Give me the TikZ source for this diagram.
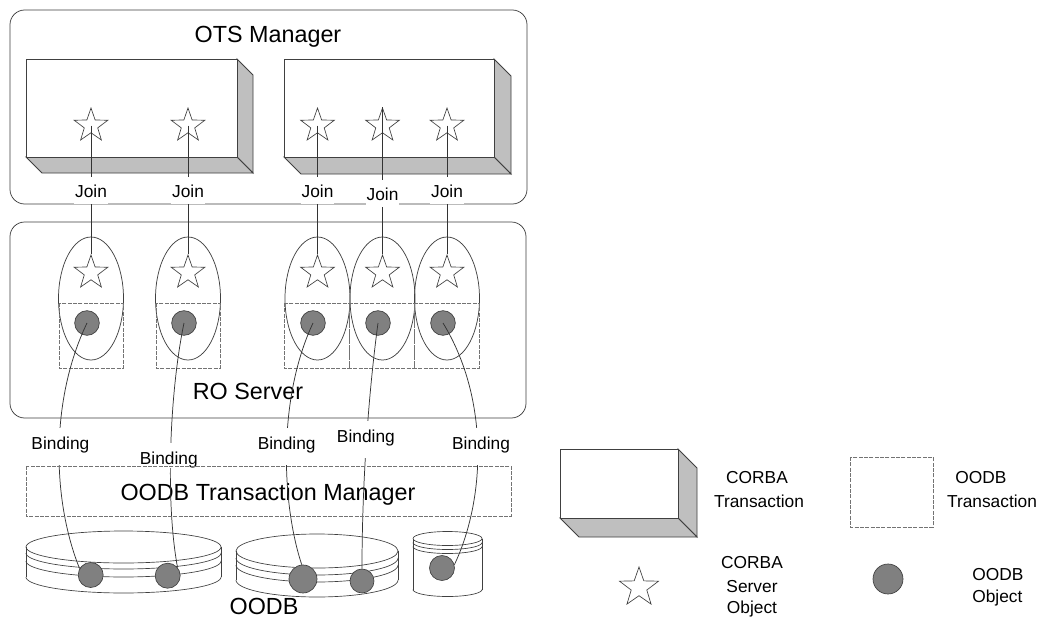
\documentclass[tikz,border=0pt]{standalone}
\usepackage{fontspec}
\setmainfont{Liberation Sans}
\usetikzlibrary{shapes.geometric}

\tikzset{
  outline/.style={draw=black!75, line width=0.55pt},
  wire/.style={draw=black!80, line width=0.55pt},
  mgrbox/.style={outline, rounded corners=11pt},
  facebox/.style={draw=black!75, line width=0.7pt, fill=white},
  sidebox/.style={draw=black!75, line width=0.7pt, fill=black!25},
  odbframe/.style={draw=black!55, line width=0.5pt, dash pattern=on 3pt off 1pt},
  srvobj/.style={star, star points=5, star point ratio=2.5, draw=black!75,
    line width=0.5pt, fill=white, inner sep=0pt, minimum size=#1},
  srvobj/.default=26.5pt,
  dbobj/.style={circle, draw=black!75, line width=0.5pt, fill=gray,
    inner sep=0pt, minimum size=#1},
  dbobj/.default=18.5pt,
  oval/.style={ellipse, outline, inner sep=0pt, minimum width=48.75pt, minimum height=92.25pt},
  bigtext/.style={font=\fontsize{17.5pt}{20pt}\selectfont, anchor=base, inner sep=0pt},
  smalltext/.style={font=\fontsize{13pt}{15pt}\selectfont, anchor=base, inner sep=0pt},
  joinlbl/.style={smalltext, fill=white, inner xsep=0.5pt, inner ysep=0pt,
    text height=15pt, text depth=4.9pt},
  bindlbl/.style={smalltext, fill=white, inner xsep=0.5pt, inner ysep=0pt,
    text height=16pt, text depth=12pt},
  dbline/.style={draw=black!75, line width=0.5pt},
}

% database drum: centre x, top-ellipse centre y, x radius, y radius, height, two ring offsets
\newcommand\dbdisk[7]{%
  \draw[dbline] (#1,#2) ellipse [x radius=#3, y radius=#4];
  \draw[dbline] ({#1-#3},#2) -- ({#1-#3},{#2+#5});
  \draw[dbline] ({#1+#3},#2) -- ({#1+#3},{#2+#5});
  \foreach \ringoff in {#6,#7,#5}{%
    \draw[dbline] plot[domain=0:180, samples=60] ({#1+#3*cos(\x)},{#2+\ringoff+#4*sin(\x)});
  }%
}

% raised CORBA transaction slab: left, top, right, bottom, depth
\newcommand\corbabox[5]{%
  \filldraw[sidebox] (#3,#2) -- ({#3+#5},{#2+#5}) -- ({#3+#5},{#4+#5}) -- (#3,#4) -- cycle;
  \filldraw[sidebox] (#1,#4) -- (#3,#4) -- ({#3+#5},{#4+#5}) -- ({#1+#5},{#4+#5}) -- cycle;
  \filldraw[facebox] (#1,#2) rectangle (#3,#4);
}

\begin{document}
\begin{tikzpicture}[x=0.75pt, y=-0.75pt]
\fill[white] (0,0) rectangle (1038,621);
\useasboundingbox (0,0) rectangle (1038,621);

% ---------------- OTS manager ----------------
\draw[mgrbox] (10,10) rectangle (527,204);
\node[bigtext] (otsname) at (268,42.4) {OTS Manager};
\corbabox{26}{59}{237}{157}{16}
\corbabox{284}{59}{494}{157}{17}
\foreach \i/\xx in {1/91,2/188,3/317.5,4/382.5,5/447}{
  \node[srvobj] (ts\i) at (\xx,125.7) {};
}

% ---------------- RO server ----------------
\draw[mgrbox] (10,222) rectangle (526,418);
\foreach \i/\xx in {1/91,2/188,3/317.5,4/382.5,5/447}{
  \node[oval] (ov\i) at (\xx,298.5) {};
}
\draw[odbframe] (59,303) rectangle (123,368);
\draw[odbframe] (156,303) rectangle (220,368);
\draw[odbframe] (284,303) rectangle (349,368);
\draw[odbframe] (349,303) rectangle (414,368);
\draw[odbframe] (414,303) rectangle (479,368);
\foreach \i/\xx in {1/91,2/188,3/317.5,4/382.5,5/447}{
  \node[srvobj] (rs\i) at (\xx,272.7) {};
}
\foreach \i/\xx in {1/87,2/184,3/313,4/378,5/443}{
  \node[dbobj] (rc\i) at (\xx,323) {};
}
\node[bigtext] (roname) at (248,399.4) {RO Server};

% ---------------- OODB side ----------------
\node[bigtext] (tmname) at (268,500.4) {OODB Transaction Manager};
\dbdisk{123.5}{547}{97.5}{16}{30}{6}{14}
\dbdisk{317}{551}{81}{17}{29}{7}{14}
\dbdisk{447.5}{538.5}{34.5}{7}{51}{4}{8}
\node[dbobj=18.75pt] (dc1a) at (90.7,575) {};
\node[dbobj=18.75pt] (dc1b) at (167.7,575.7) {};
\node[dbobj=21pt] (dc2a) at (303,579) {};
\node[dbobj=18pt] (dc2b) at (362,581) {};
\node[dbobj=18.75pt] (dc3a) at (442,568) {};
\node[bigtext] (dbname) at (264,614) {OODB};

% ---------------- join connectors ----------------
\draw[wire] (ts1.center) -- (rs1.north);
\draw[wire] (ts2.center) -- (rs2.north);
\draw[wire] (ts3.center) -- (rs3.north);
\draw[wire] (ts4.north) -- (rs4.north);
\draw[wire] (ts5.center) -- (rs5.north);

% ---------------- binding connectors ----------------
\draw[wire] (rc1.center) .. controls (50,400) and (52,500) .. (dc1a.150);
\draw[wire] (rc2.center) .. controls (170,390) and (165,500) .. (dc1b.40);
\draw[wire] (rc3.center) .. controls (277,400) and (282,505) .. (dc2a.95);
\draw[wire] (rc4.center) .. controls (369,390) and (362,480) .. (dc2b.north);
\draw[wire] (rc5.center) .. controls (490,400) and (485,500) .. (dc3a.15);

% ---------------- connector labels ----------------
\node[joinlbl] (j1) at (91,197) {Join};
\node[joinlbl] (j2) at (188,197) {Join};
\node[joinlbl] (j3) at (317.5,197) {Join};
\node[joinlbl] (j4) at (382.5,200) {Join};
\node[joinlbl] (j5) at (447,197) {Join};
\node[bindlbl] (b1) at (60.4,449) {Binding};
\node[bindlbl, text depth=3pt] (b2) at (168.8,464) {Binding};
\node[bindlbl] (b3) at (286.7,449) {Binding};
\node[bindlbl] (b4) at (365.9,442) {Binding};
\node[bindlbl] (b5) at (481,449) {Binding};

\draw[odbframe] (26,466) rectangle (511,516);

% ---------------- legend ----------------
\corbabox{560}{449}{678}{518}{19}
\node[smalltext] (lgcta) at (757,483) {CORBA};
\node[smalltext] (lgctb) at (759,507) {Transaction};
\draw[odbframe] (850,457) rectangle (933,527);
\node[smalltext] (lgota) at (981,483) {OODB};
\node[smalltext] (lgotb) at (992,507) {Transaction};
\node[srvobj=30.75pt] (lgstar) at (639,587.5) {};
\node[smalltext] (lgsa) at (752,568) {CORBA};
\node[smalltext] (lgsb) at (752,592) {Server};
\node[smalltext] (lgsc) at (752,613) {Object};
\node[dbobj=22.5pt] (lgdot) at (888,579) {};
\node[smalltext, anchor=base west] (lgoa) at (972,580) {OODB};
\node[smalltext, anchor=base west] (lgob) at (972,602) {Object};
\end{tikzpicture}
\end{document}
